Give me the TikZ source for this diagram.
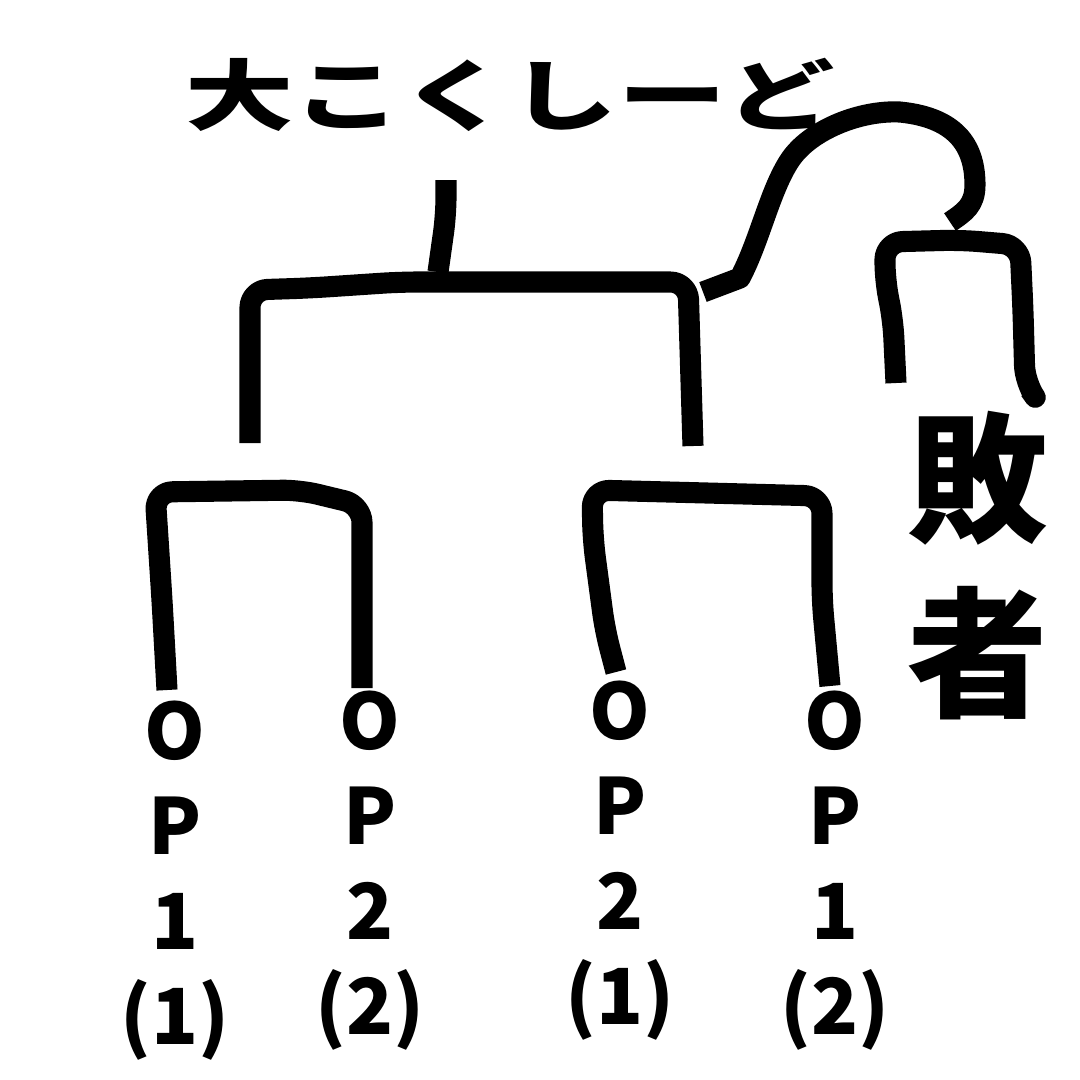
\documentclass[tikz,border=0pt]{standalone}
\usepackage{fontspec}
\newfontfamily\jp{Noto Sans CJK JP}
\tikzset{
  ln/.style={line width=6pt, rounded corners=5pt, line cap=butt, line join=round},
  lbl/.style={font=\jp\bfseries\fontsize{22}{27}\selectfont, align=center, inner sep=0pt},
}
\begin{document}
\begin{tikzpicture}[x=0.1mm,y=-0.1mm]
\useasboundingbox (0,0) rectangle (1080,1080);
\node[lbl, font=\jp\bfseries\fontsize{22}{28}\selectfont, xscale=1.4] (title) at (510,95) {大こくしーど};
% main bracket
\coordinate (stem) at (446,180);
\coordinate (ml) at (250,443);
\coordinate (mr) at (693,446);
\draw[ln] (stem) -- (446,215) -- (438,272);
\draw[ln] (ml) -- (250,290) -- (310,288) -- (400,282) -- (688,282) -- (mr);
% left sub bracket
\coordinate (a1) at (167,690);
\coordinate (a2) at (362,688);
\draw[ln] (a1) -- (162,600) -- (155,492) -- (300,490) -- (362,505) -- (a2);
% right sub bracket
\coordinate (b1) at (616,672);
\coordinate (b2) at (830,686);
\draw[ln] (b1) -- (605,630) -- (593,540) -- (592,490) -- (822,496) -- (822,600) -- (b2);
% loser curve
\coordinate (lc) at (703,292);
\coordinate (lt) at (950,222);
\draw[line width=6pt, line join=round] (lc) -- (740,278) .. controls (760,240) and (770,190) .. (790,160)
  .. controls (810,130) and (860,110) .. (900,112) .. controls (960,118) and (975,150) .. (975,185)
  .. controls (975,205) and (965,212) .. (lt);
% loser bracket
\coordinate (c1) at (896,383);
\coordinate (c2) at (1030,390);
\draw[ln] (c1) -- (893,320) -- (885,280) -- (885,242) -- (960,240) -- (1020,245) -- (1023,310) -- (1025,383) -- (c2);
% labels
\node[lbl, anchor=north] (la) at (175,700) {O\\P\\1\\(1)};
\node[lbl, anchor=north] (lb) at (370,690) {O\\P\\2\\(2)};
\node[lbl, anchor=north] (lc2) at (620,680) {O\\P\\2\\(1)};
\node[lbl, anchor=north] (ld) at (835,690) {O\\P\\1\\(2)};
\node[lbl, anchor=north, font=\jp\bfseries\fontsize{40}{50}\selectfont] (loser) at (978,410) {敗\\者};
\end{tikzpicture}
\end{document}
